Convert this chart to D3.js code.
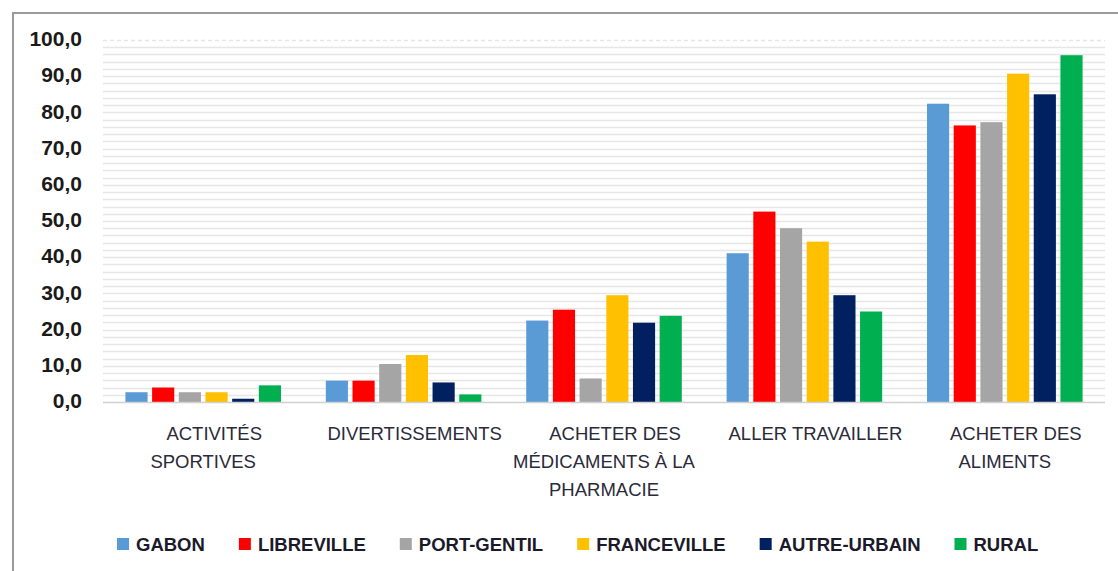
<!DOCTYPE html>
<html>
<head>
<meta charset="utf-8">
<script src="https://cdn.jsdelivr.net/npm/d3@7"></script>
<style>
  html, body { margin: 0; padding: 0; background: #fff; }
  svg { display: block; }
</style>
</head>
<body>
<svg id="chart" width="1118" height="571"></svg>
<script>
// ---- Data ----
const categories = [
  ["ACTIVITÉS", "SPORTIVES"],
  ["DIVERTISSEMENTS"],
  ["ACHETER DES", "MÉDICAMENTS À LA", "PHARMACIE"],
  ["ALLER TRAVAILLER"],
  ["ACHETER DES", "ALIMENTS"]
];
const seriesNames = ["GABON", "LIBREVILLE", "PORT-GENTIL", "FRANCEVILLE", "AUTRE-URBAIN", "RURAL"];
const seriesColors = ["#5b9bd5", "#ff0000", "#a5a5a5", "#ffc000", "#002060", "#00b050"];
const gabon       = [2.7, 5.9, 22.5, 41.1, 82.4];
const libreville  = [4.0, 5.9, 25.5, 52.6, 76.4];
const portGentil  = [2.7, 10.5, 6.5, 48.0, 77.3];
const franceville = [2.7, 13.0, 29.5, 44.3, 90.7];
const autreUrbain = [0.9, 5.4, 21.9, 29.5, 85.0];
const rural       = [4.6, 2.1, 23.8, 25.0, 95.8];
const yTicks = [0, 10, 20, 30, 40, 50, 60, 70, 80, 90, 100];

(function () {
const seriesValues = [gabon, libreville, portGentil, franceville, autreUrbain, rural];
const catKeys = categories.map(c => c.join(" "));

// ---- Layout ----
const svg = d3.select("#chart");
const pLeft = 103, pRight = 1105, pTop = 40, pBottom = 402;

// outer border (left + top visible)
svg.append("path")
  .attr("d", `M13,571 L13,13 L1118,13`)
  .attr("fill", "none")
  .attr("stroke", "#9a9a9a")
  .attr("stroke-width", 2);

const y = d3.scaleLinear().domain([0, 100]).range([pBottom, pTop]);
const x0 = d3.scaleBand().domain(catKeys).range([pLeft, pRight]).paddingInner(0).paddingOuter(0);
const x1 = d3.scaleBand().domain(seriesNames).range([0, x0.bandwidth()])
  .paddingInner(0.17).paddingOuter(0.84);

// gridlines every 2 units
const grid = d3.range(2, 101, 2);
svg.append("g").selectAll("line").data(grid).join("line")
  .attr("x1", pLeft).attr("x2", pRight)
  .attr("y1", d => Math.round(y(d)) + 0.5).attr("y2", d => Math.round(y(d)) + 0.5)
  .attr("stroke", "#e6e6e6")
  .attr("stroke-width", 1.4)
  .attr("stroke-dasharray", d => d === 100 ? "4,3" : null);

// bars
const gGroups = svg.append("g").selectAll("g").data(catKeys).join("g")
  .attr("transform", d => `translate(${x0(d)},0)`);
gGroups.selectAll("rect")
  .data((d, i) => seriesNames.map((s, j) => ({ s, j, v: seriesValues[j][i] })))
  .join("rect")
  .attr("x", d => x1(d.s))
  .attr("width", x1.bandwidth())
  .attr("y", d => y(d.v))
  .attr("height", d => y(0) - y(d.v))
  .attr("fill", d => seriesColors[d.j]);

// baseline
svg.append("line")
  .attr("x1", pLeft).attr("x2", pRight)
  .attr("y1", y(0) + 0.5).attr("y2", y(0) + 0.5)
  .attr("stroke", "#d0d0d0").attr("stroke-width", 1.5);

// y axis labels
const yAxis = d3.axisLeft(y).tickValues(yTicks).tickSize(0).tickPadding(0)
  .tickFormat(d => d3.format(".1f")(d).replace(".", ","));
const ya = svg.append("g").attr("transform", `translate(82,-1)`).call(yAxis);
ya.select(".domain").remove();
ya.selectAll("text")
  .attr("font-family", "'Liberation Sans', Arial, sans-serif")
  .attr("font-weight", "bold")
  .attr("font-size", 21)
  .attr("fill", "#1a1a1a");

// category labels
const xl = svg.append("g").selectAll("text").data(categories).join("text")
  .attr("font-family", "'Liberation Sans', Arial, sans-serif")
  .attr("font-size", 18.5)
  .attr("fill", "#2a2a3a")
  .attr("text-anchor", "middle")
  .attr("y", 440);
xl.each(function(lines, i) {
  const cx = x0(catKeys[i]) + x0.bandwidth() / 2;
  d3.select(this).selectAll("tspan").data(lines).join("tspan")
    .attr("x", (d, k) => k === 0 ? cx + 11 : cx)
    .attr("dy", (d, k) => k === 0 ? 0 : 28)
    .text(d => d);
});

// legend
const legend = svg.append("g").attr("transform", "translate(117,544)");
let lx = 0;
seriesNames.forEach((name, j) => {
  const g = legend.append("g").attr("transform", `translate(${lx},0)`);
  g.append("rect").attr("x", 0).attr("y", -6).attr("width", 12).attr("height", 12)
    .attr("fill", seriesColors[j]);
  const t = g.append("text").attr("x", 19).attr("y", 0)
    .attr("dominant-baseline", "central")
    .attr("font-family", "'Liberation Sans', Arial, sans-serif")
    .attr("font-weight", "bold")
    .attr("font-size", 18.5)
    .attr("fill", "#1a1a2a")
    .text(name);
  lx += 19 + t.node().getComputedTextLength() + 34;
});
})();
</script>
</body>
</html>
